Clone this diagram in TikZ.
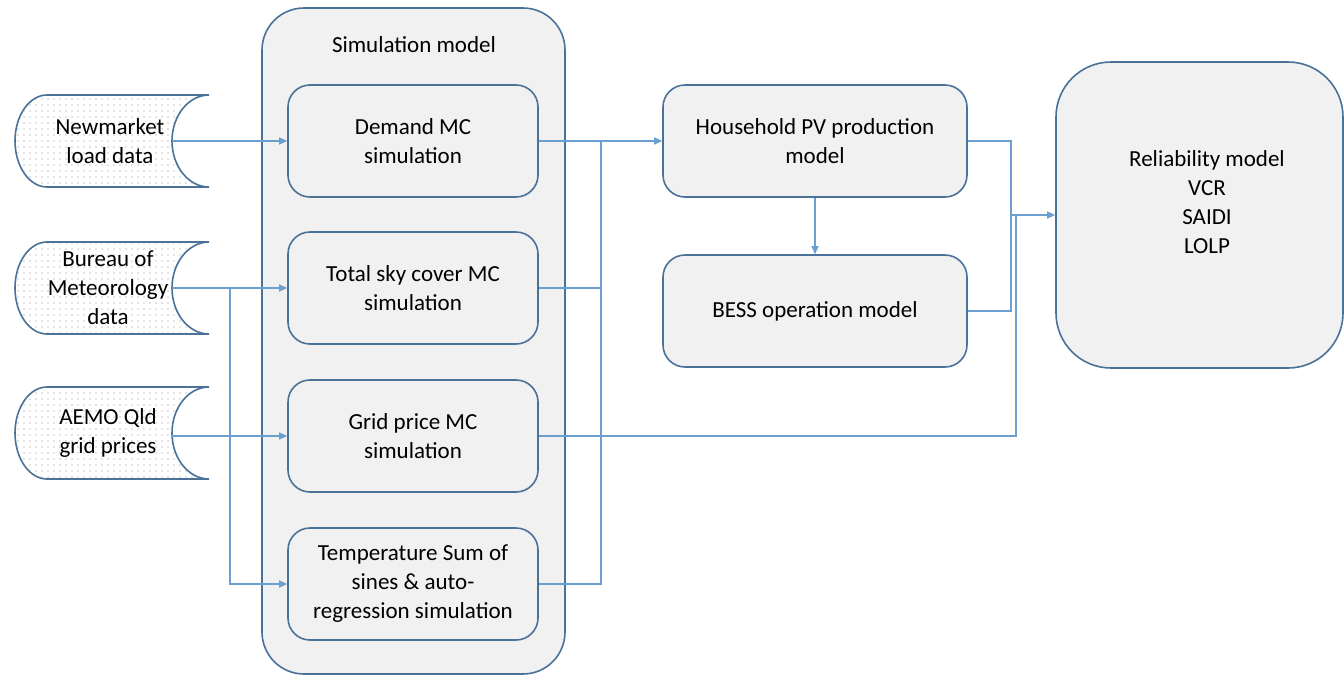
\documentclass[tikz,border=0pt]{standalone}
\usepackage{fontspec}
\setmainfont{Carlito}
\usetikzlibrary{arrows.meta,patterns.meta}
\definecolor{bord}{HTML}{4A7198}
\definecolor{conn}{HTML}{6A9FD0}
\definecolor{boxfill}{HTML}{F1F1F1}
\begin{document}
\begin{tikzpicture}[x=1pt,y=-1pt,
  font=\fontsize{23}{29}\selectfont,
  box/.style={draw=bord,line width=1.6pt,fill=boxfill,rounded corners=22pt,inner sep=0pt,align=center},
  store/.style={draw=bord,line width=1.6pt,fill=white,postaction={pattern={Dots[distance=6pt,radius=0.6pt]},pattern color=gray!90}},
  conn/.style={draw=conn,line width=1.1pt},
  arr/.style={conn,-{Triangle[length=8pt,width=7pt]}}
]
\useasboundingbox (0,0) rectangle (1344,675);
% outer simulation box
\node[box,rounded corners=42pt,minimum width=303pt,minimum height=666pt] (sim) at (413.5,341) {};
\node (simt) at (414,45) {Simulation model};
% inner boxes
\node[box,minimum width=250pt,minimum height=112pt] (dem) at (413,141) {Demand MC\\simulation};
\node[box,minimum width=250pt,minimum height=112pt] (sky) at (413,288) {Total sky cover MC\\simulation};
\node[box,minimum width=250pt,minimum height=112pt] (grid) at (413,436) {Grid price MC\\simulation};
\node[box,minimum width=250pt,minimum height=112pt] (temp) at (413,584) {Temperature Sum of\\sines \& auto-\\regression simulation};
% right boxes
\node[box,minimum width=304pt,minimum height=112pt] (hh) at (815,141) {Household PV production\\model};
\node[box,minimum width=304pt,minimum height=112pt] (bess) at (815,311) {BESS operation model};
\node[box,rounded corners=55pt,minimum width=287pt,minimum height=306pt] (rel) at (1199.5,215) {};
\node[align=center] (relt) at (1207,202) {Reliability model\\VCR\\SAIDI\\LOLP};
% data stores
\foreach \yy in {141,288,433}{
  \path[store] (47,\yy-46) .. controls (29.3,\yy-46) and (15,\yy-25.4) .. (15,\yy)
    .. controls (15,\yy+25.4) and (29.3,\yy+46) .. (47,\yy+46) -- (209,\yy+46)
    .. controls (188.6,\yy+46) and (172,\yy+25.4) .. (172,\yy)
    .. controls (172,\yy-25.4) and (188.6,\yy-46) .. (209,\yy-46) -- cycle;
}
\coordinate (nm) at (172,141);
\coordinate (bm) at (172,288);
\coordinate (ae) at (172.2,436);
\node[align=center] (nmt) at (110,141) {Newmarket\\load data};
\node[align=center] (bmt) at (108,288) {Bureau of\\Meteorology\\data};
\node[align=center] (aet) at (108,433) {AEMO Qld\\grid prices};
% connectors left
\draw[arr] (nm) -- (dem.west);
\draw[arr] (bm) -- (sky.west);
\coordinate (br) at (230,288);
\draw[arr] (br) |- (temp.west);
\draw[arr] (ae) -- (grid.west);
% right bus
\coordinate (bus) at (601,141);
\draw[conn] (dem.east) -- (bus);
\draw[arr] (bus) -- (hh.west);
\draw[conn] (sky.east) -| (bus);
\draw[conn] (temp.east) -| (bus);
\draw[arr] (hh.south) -- (bess.north);
\coordinate (jn) at (1011,141);
\draw[conn] (hh.east) -- (jn) |- (bess.east);
\coordinate (gj) at (1016,436);
\coordinate (rj) at (1016,215);
\draw[conn] (grid.east) -- (gj) -- (rj);
\draw[conn] (jn |- rj) -- (rj);
\draw[arr] (rj) -- (rel.west);
\end{tikzpicture}
\end{document}
